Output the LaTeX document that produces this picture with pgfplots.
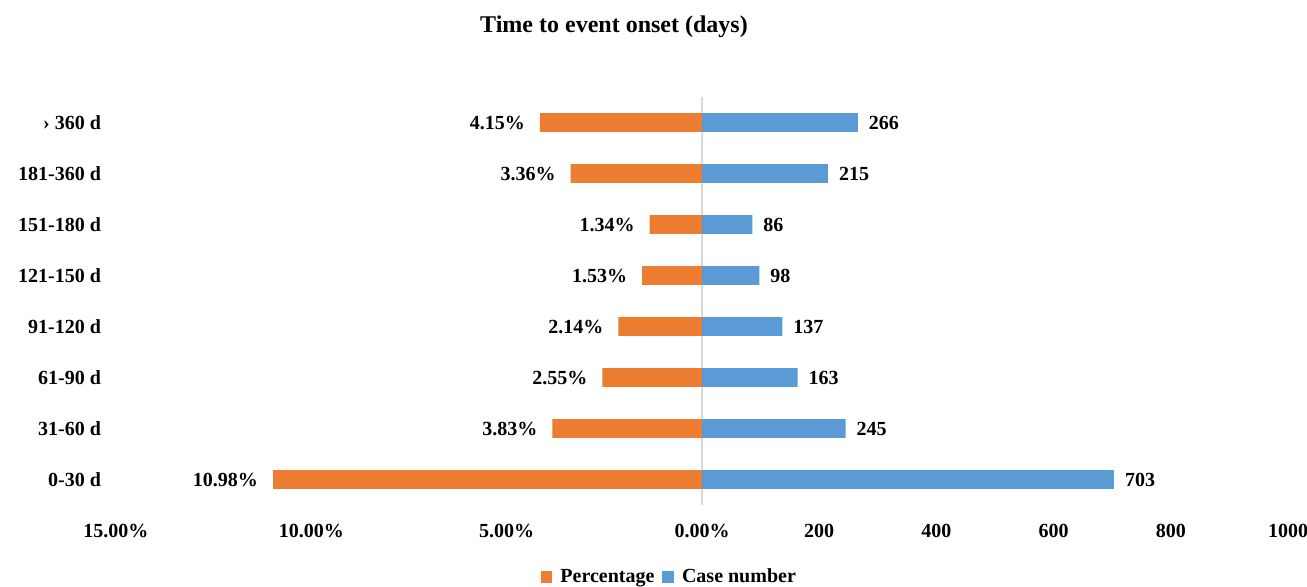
\documentclass[border=0pt]{standalone}
\usepackage{pgfplots}
\pgfplotsset{compat=1.18}
\usepackage{pgfplotstable}
\usepackage{fontspec}
\setmainfont{Liberation Serif}
\definecolor{xlorange}{HTML}{ED7D31}
\definecolor{xlblue}{HTML}{5B9BD5}
\definecolor{xlgrid}{HTML}{D9D9D9}
\pgfplotstableread{
cat p n
0 10.98 703
1 3.83 245
2 2.55 163
3 2.14 137
4 1.53 98
5 1.34 86
6 3.36 215
7 4.15 266
}\data
\begin{document}
\begin{tikzpicture}
\begin{axis}[
  at={(0,0)}, anchor=south west,
  scale only axis, width=586pt, height=204pt,
  xmin=-1000, xmax=1000, ymin=-0.5, ymax=7.5,
  axis line style={draw=none},
  major tick style={draw=none},
  minor tick style={draw=none},
  xtick={-1000,-666.667,-333.333,0,200,400,600,800,1000},
  xticklabels={15.00\%,10.00\%,5.00\%,0.00\%,200,400,600,800,1000},
  ytick={0,...,7},
  yticklabels={0-30 d,31-60 d,61-90 d,91-120 d,121-150 d,151-180 d,181-360 d,› 360 d},
  xticklabel style={font=\fontsize{10}{12}\selectfont\bfseries, yshift=-6pt},
  yticklabel style={font=\fontsize{10}{12}\selectfont\bfseries, xshift=-4pt},
  clip=false,
  legend columns=2,
  legend style={at={(0.473,0)}, anchor=center, yshift=-36pt, draw=none,
    font=\fontsize{10}{12}\selectfont\bfseries, column sep=2pt,
    /tikz/every even column/.append style={column sep=2pt}},
  legend image code/.code={\fill[#1] (0pt,-2.9pt) rectangle (5.8pt,2.9pt);},
]
\draw[xlgrid, line width=0.8pt] (axis cs:0,-0.5) -- (axis cs:0,7.5);
\addplot[xbar, fill=xlorange, draw=none, bar width=9.3pt, bar shift=0pt,
  point meta=\thisrow{p},
  nodes near coords={\pgfmathprintnumber[fixed,fixed zerofill,precision=2,assume math mode=true]{\pgfplotspointmeta}\%},
  nodes near coords style={anchor=east, xshift=-4pt, font=\fontsize{10}{12}\selectfont\bfseries, text=black}]
  table[x expr=-\thisrow{p}*1000/15, y=cat]{\data};
\addlegendentry{Percentage}
\addplot[xbar, fill=xlblue, draw=none, bar width=9.3pt, bar shift=0pt,
  point meta=\thisrow{n},
  nodes near coords={\pgfmathprintnumber[fixed,precision=0,assume math mode=true]{\pgfplotspointmeta}},
  nodes near coords style={anchor=west, xshift=2pt, font=\fontsize{10}{12}\selectfont\bfseries, text=black}]
  table[x=n, y=cat]{\data};
\addlegendentry{Case number}
\end{axis}
\node[font=\fontsize{12}{14.4}\selectfont\bfseries] at (249pt,239pt) {Time to event onset (days)};
\pgfresetboundingbox
\path (-58pt,-40.5pt) rectangle (595.5pt,252.5pt);
\end{tikzpicture}
\end{document}
